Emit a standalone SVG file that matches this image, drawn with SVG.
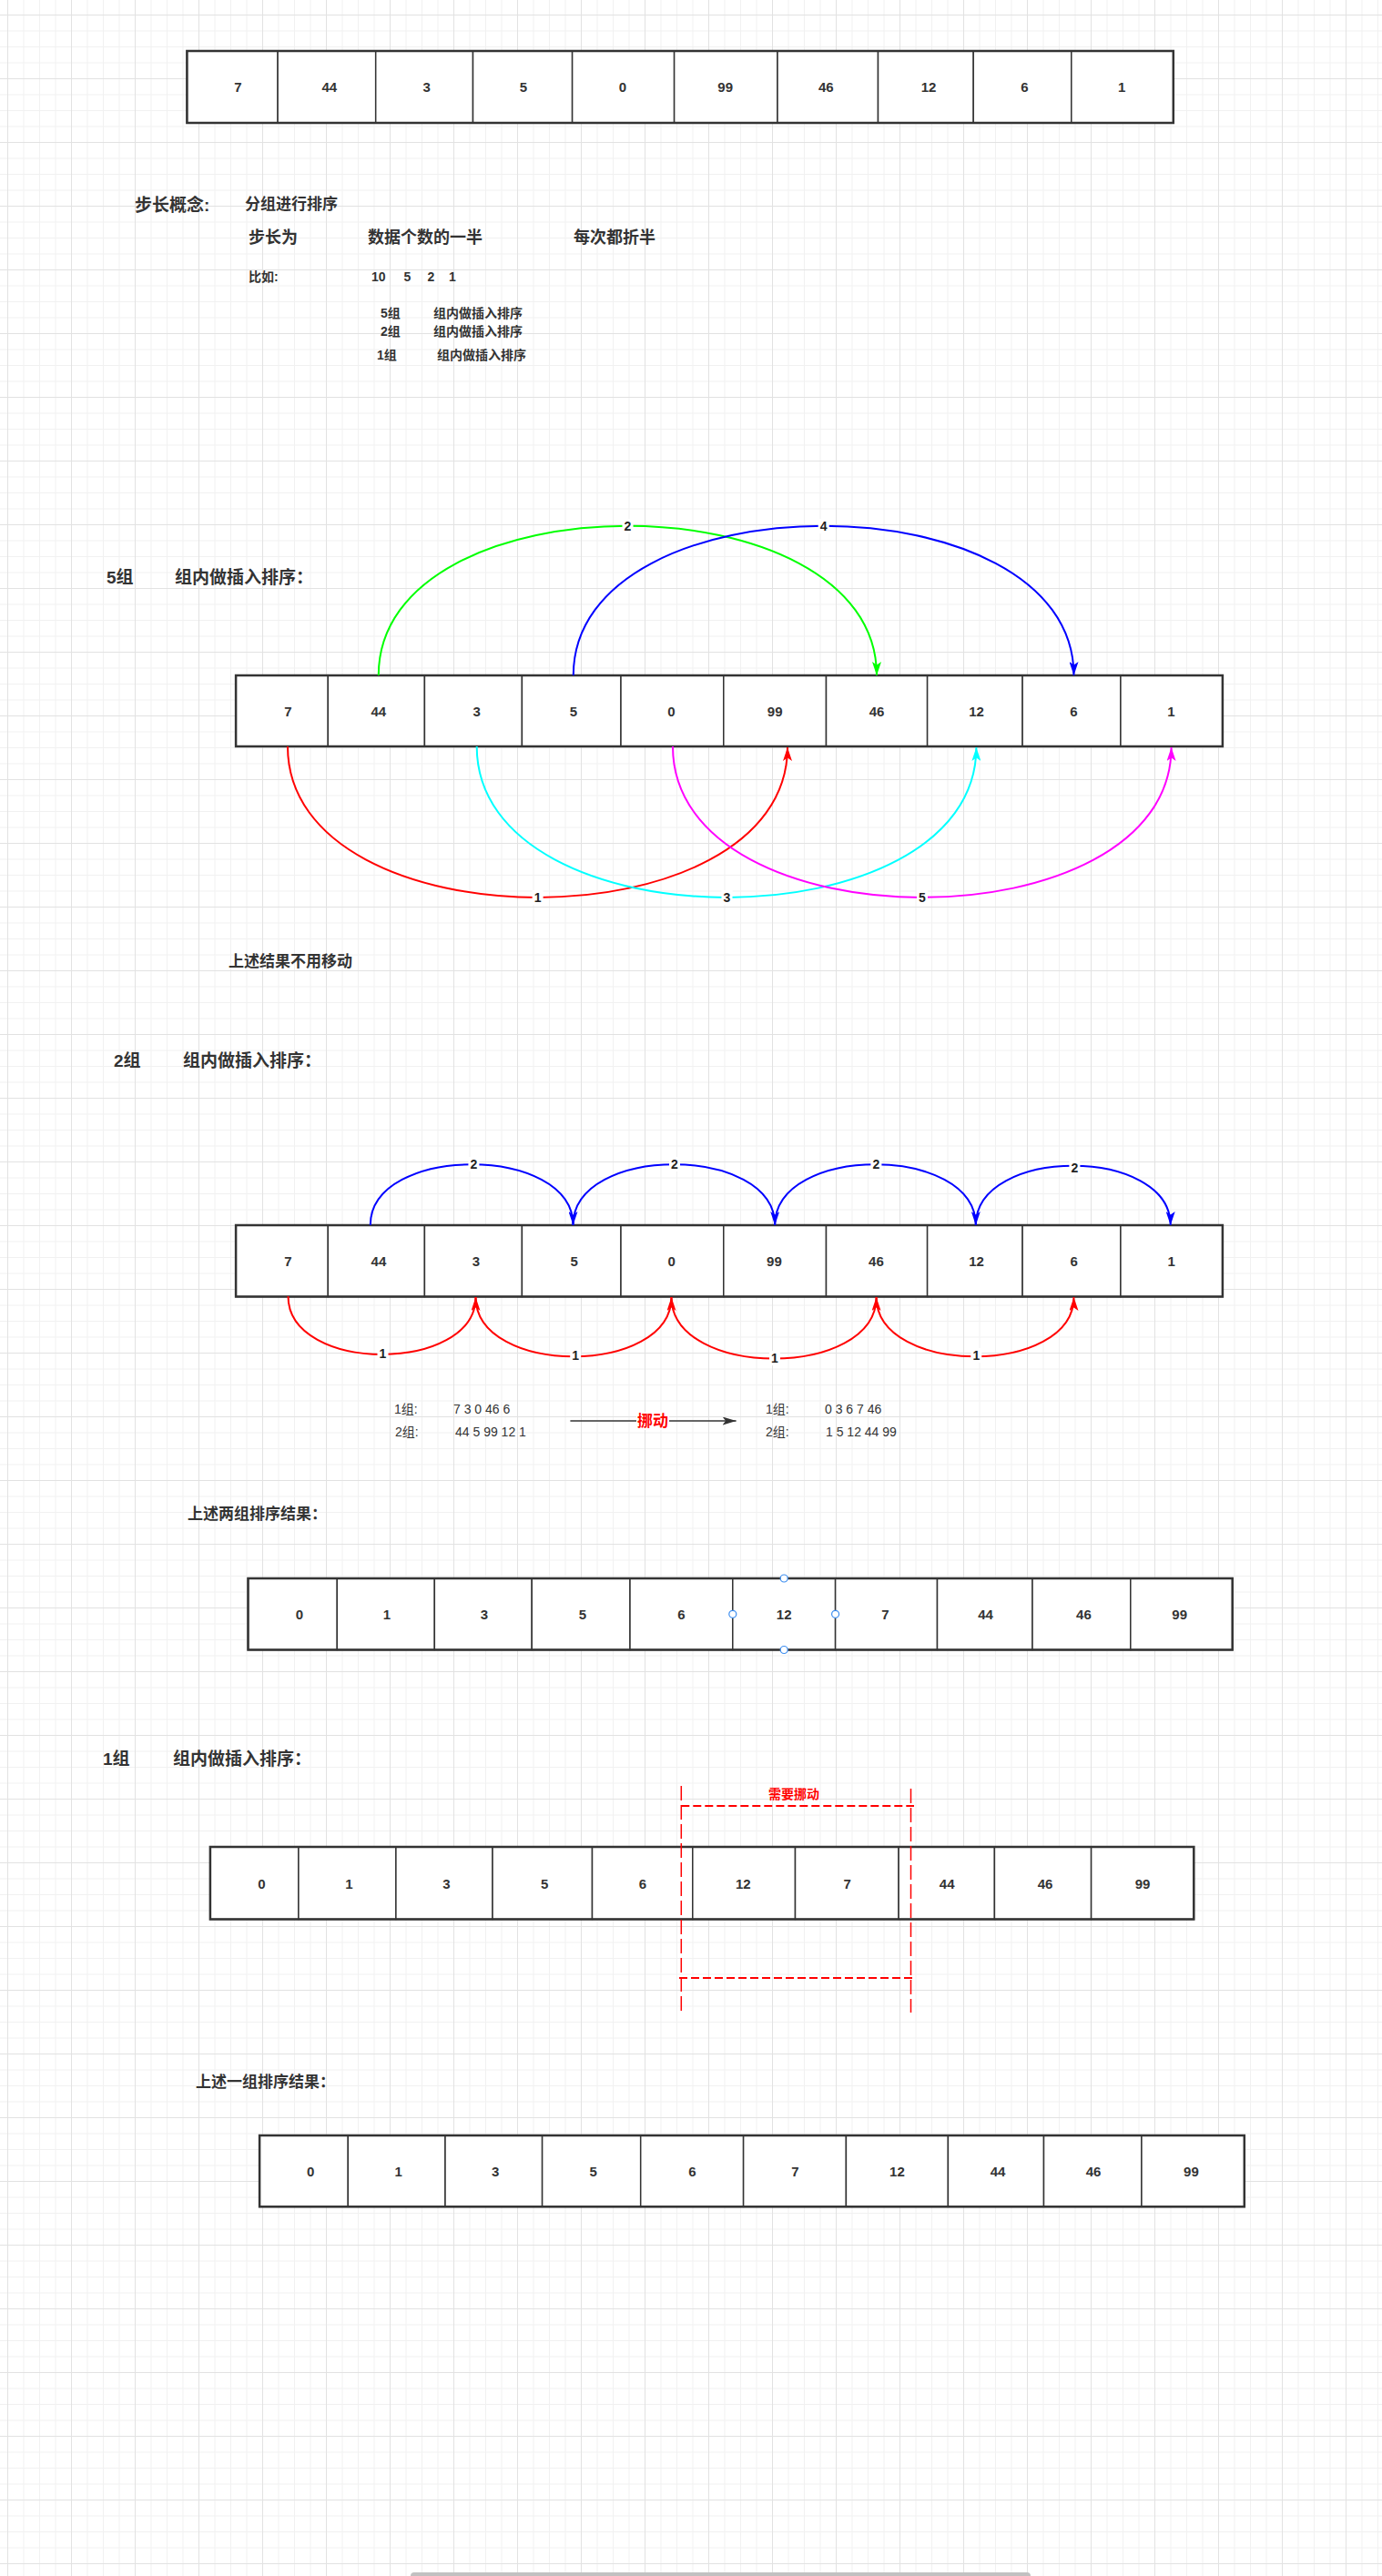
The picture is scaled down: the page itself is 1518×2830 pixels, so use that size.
<svg xmlns="http://www.w3.org/2000/svg" width="1518" height="2830" viewBox="0 0 1518 2830">
<defs>
<pattern id="grid" x="8" y="16" width="70" height="70" patternUnits="userSpaceOnUse">
<path d="M18 0V70M35.5 0V70M53 0V70M0 18H70M0 35.5H70M0 53H70" stroke="#f1f1f1" stroke-width="1" fill="none"/>
<path d="M0.5 0V70M0 0.5H70" stroke="#e2e2e2" stroke-width="1" fill="none"/>
</pattern>
<marker id="aG" viewBox="0 0 15 10" refX="15" refY="5" markerWidth="15" markerHeight="10" markerUnits="userSpaceOnUse" orient="auto"><path d="M0,0 L15,5 L0,10 L3.5,5 Z" fill="#00ff00"/></marker>
<marker id="aB" viewBox="0 0 15 10" refX="15" refY="5" markerWidth="15" markerHeight="10" markerUnits="userSpaceOnUse" orient="auto"><path d="M0,0 L15,5 L0,10 L3.5,5 Z" fill="#0000ff"/></marker>
<marker id="aR" viewBox="0 0 15 10" refX="15" refY="5" markerWidth="15" markerHeight="10" markerUnits="userSpaceOnUse" orient="auto"><path d="M0,0 L15,5 L0,10 L3.5,5 Z" fill="#ff0000"/></marker>
<marker id="aC" viewBox="0 0 15 10" refX="15" refY="5" markerWidth="15" markerHeight="10" markerUnits="userSpaceOnUse" orient="auto"><path d="M0,0 L15,5 L0,10 L3.5,5 Z" fill="#00ffff"/></marker>
<marker id="aM" viewBox="0 0 15 10" refX="15" refY="5" markerWidth="15" markerHeight="10" markerUnits="userSpaceOnUse" orient="auto"><path d="M0,0 L15,5 L0,10 L3.5,5 Z" fill="#ff00ff"/></marker>
<marker id="aD" viewBox="0 0 15 9" refX="15" refY="4.5" markerWidth="15" markerHeight="9" markerUnits="userSpaceOnUse" orient="auto"><path d="M0,0 L15,4.5 L0,9 L3.5,4.5 Z" fill="#333333"/></marker>
</defs>
<style>
.cell{fill:#ffffff;stroke:#333333;stroke-width:1.5}
.row{fill:none;stroke:#333333;stroke-width:2.5}
.num{font-family:"Liberation Sans","Noto Sans CJK SC",sans-serif;font-weight:bold;font-size:15px;fill:#333333;text-anchor:middle;dominant-baseline:central}
.t{font-family:"Liberation Sans","Noto Sans CJK SC",sans-serif;font-weight:bold;fill:#333333;dominant-baseline:central}
.t19{font-size:19px}
.t18{font-size:18px}
.t17{font-size:17px}
.t14{font-size:14px}
.n{font-family:"Liberation Sans","Noto Sans CJK SC",sans-serif;font-weight:normal;font-size:14px;fill:#333333;dominant-baseline:central}
.red{font-family:"Liberation Sans","Noto Sans CJK SC",sans-serif;font-weight:bold;fill:#ff0000;text-anchor:middle;dominant-baseline:central}
.e{fill:none;stroke-width:2}
.lb{font-family:"Liberation Sans",sans-serif;font-weight:bold;font-size:14px;fill:#222222;text-anchor:middle;dominant-baseline:central}
.bg{fill:#ffffff}
.dv{fill:none;stroke:#ff0000;stroke-width:1.5;stroke-dasharray:16 5}
.dh{fill:none;stroke:#ff0000;stroke-width:2;stroke-dasharray:9 4}
.hd{fill:#ffffff;stroke:#3d8ef0;stroke-width:1.2}
</style>
<rect x="0" y="0" width="1518" height="2830" fill="#ffffff"/>
<rect x="0" y="0" width="1518" height="2830" fill="url(#grid)"/>

<!-- Row 1 -->
<g id="row1">
<g id="r1c1"><rect class="cell" x="205.4" y="56" width="99.7" height="79"/><text class="num" x="261.5" y="95">7</text></g>
<g id="r1c2"><rect class="cell" x="305.1" y="56" width="107.6" height="79"/><text class="num" x="361.8" y="95">44</text></g>
<g id="r1c3"><rect class="cell" x="412.7" y="56" width="106.8" height="79"/><text class="num" x="468.7" y="95">3</text></g>
<g id="r1c4"><rect class="cell" x="519.5" y="56" width="109.1" height="79"/><text class="num" x="574.9" y="95">5</text></g>
<g id="r1c5"><rect class="cell" x="628.6" y="56" width="112" height="79"/><text class="num" x="684" y="95">0</text></g>
<g id="r1c6"><rect class="cell" x="740.6" y="56" width="113.4" height="79"/><text class="num" x="796.7" y="95">99</text></g>
<g id="r1c7"><rect class="cell" x="854" y="56" width="110.5" height="79"/><text class="num" x="907.3" y="95">46</text></g>
<g id="r1c8"><rect class="cell" x="964.5" y="56" width="104.7" height="79"/><text class="num" x="1020" y="95">12</text></g>
<g id="r1c9"><rect class="cell" x="1069.2" y="56" width="107.6" height="79"/><text class="num" x="1125.5" y="95">6</text></g>
<g id="r1c10"><rect class="cell" x="1176.8" y="56" width="112" height="79"/><text class="num" x="1232.1" y="95">1</text></g>
<rect class="row" x="205.4" y="56" width="1083.4" height="79"/>
</g>

<!-- Intro texts -->
<g id="intro">
<text class="t t19" x="148" y="225">步长概念:</text>
<text class="t t17" x="269" y="224">分组进行排序</text>
<text class="t t18" x="273" y="261">步长为</text>
<text class="t t18" x="404" y="261">数据个数的一半</text>
<text class="t t18" x="630" y="261">每次都折半</text>
<text class="t t14" x="273" y="304">比如:</text>
<text class="t t14" y="304"><tspan x="408">10</tspan><tspan x="443.5">5</tspan><tspan x="469.5">2</tspan><tspan x="493">1</tspan></text>
<text class="t t14" x="418" y="344">5组</text><text class="t t14" x="476" y="344">组内做插入排序</text>
<text class="t t14" x="418" y="364">2组</text><text class="t t14" x="476" y="364">组内做插入排序</text>
<text class="t t14" x="414" y="390">1组</text><text class="t t14" x="480" y="390">组内做插入排序</text>
</g>

<!-- Section 5组 -->
<g id="h5"><text class="t t19" x="117" y="634">5组</text><text class="t t19" x="192" y="634">组内做插入排序：</text></g>
<g id="row2">
<g id="r2c1"><rect class="cell" x="259.1" y="742" width="101.2" height="78"/><text class="num" x="316.3" y="781.5">7</text></g>
<g id="r2c2"><rect class="cell" x="360.3" y="742" width="106.1" height="78"/><text class="num" x="415.8" y="781.5">44</text></g>
<g id="r2c3"><rect class="cell" x="466.4" y="742" width="107" height="78"/><text class="num" x="523.6" y="781.5">3</text></g>
<g id="r2c4"><rect class="cell" x="573.4" y="742" width="108.6" height="78"/><text class="num" x="629.8" y="781.5">5</text></g>
<g id="r2c5"><rect class="cell" x="682" y="742" width="112.8" height="78"/><text class="num" x="737.5" y="781.5">0</text></g>
<g id="r2c6"><rect class="cell" x="794.8" y="742" width="112.7" height="78"/><text class="num" x="851.2" y="781.5">99</text></g>
<g id="r2c7"><rect class="cell" x="907.5" y="742" width="111.1" height="78"/><text class="num" x="963.1" y="781.5">46</text></g>
<g id="r2c8"><rect class="cell" x="1018.6" y="742" width="104.5" height="78"/><text class="num" x="1072.5" y="781.5">12</text></g>
<g id="r2c9"><rect class="cell" x="1123.1" y="742" width="107.8" height="78"/><text class="num" x="1179.5" y="781.5">6</text></g>
<g id="r2c10"><rect class="cell" x="1230.9" y="742" width="112" height="78"/><text class="num" x="1286.5" y="781.5">1</text></g>
<rect class="row" x="259.1" y="742" width="1083.8" height="78"/>
</g>
<g id="note1"><text class="t t17" x="251" y="1056">上述结果不用移动</text></g>

<!-- Section 2组 -->
<g id="h2"><text class="t t19" x="125" y="1165">2组</text><text class="t t19" x="201" y="1165">组内做插入排序：</text></g>
<g id="row3">
<g id="r3c1"><rect class="cell" x="259.1" y="1346" width="101.2" height="78.5"/><text class="num" x="316.4" y="1385">7</text></g>
<g id="r3c2"><rect class="cell" x="360.3" y="1346" width="106.1" height="78.5"/><text class="num" x="415.9" y="1385">44</text></g>
<g id="r3c3"><rect class="cell" x="466.4" y="1346" width="107" height="78.5"/><text class="num" x="522.9" y="1385">3</text></g>
<g id="r3c4"><rect class="cell" x="573.4" y="1346" width="108.6" height="78.5"/><text class="num" x="630.7" y="1385">5</text></g>
<g id="r3c5"><rect class="cell" x="682" y="1346" width="112.8" height="78.5"/><text class="num" x="737.6" y="1385">0</text></g>
<g id="r3c6"><rect class="cell" x="794.8" y="1346" width="112.7" height="78.5"/><text class="num" x="850.4" y="1385">99</text></g>
<g id="r3c7"><rect class="cell" x="907.5" y="1346" width="111.1" height="78.5"/><text class="num" x="962.4" y="1385">46</text></g>
<g id="r3c8"><rect class="cell" x="1018.6" y="1346" width="104.5" height="78.5"/><text class="num" x="1072.6" y="1385">12</text></g>
<g id="r3c9"><rect class="cell" x="1123.1" y="1346" width="107.8" height="78.5"/><text class="num" x="1179.6" y="1385">6</text></g>
<g id="r3c10"><rect class="cell" x="1230.9" y="1346" width="112" height="78.5"/><text class="num" x="1286.6" y="1385">1</text></g>
<rect class="row" x="259.1" y="1346" width="1083.8" height="78.5"/>
</g>
<g id="groups">
<text class="n" x="433" y="1548">1组:</text><text class="n" x="498" y="1548">7 3 0 46 6</text>
<text class="n" x="434" y="1573">2组:</text><text class="n" x="500" y="1573">44 5 99 12 1</text>
<text class="n" x="841" y="1548">1组:</text><text class="n" x="906" y="1548">0 3 6 7 46</text>
<text class="n" x="841" y="1573">2组:</text><text class="n" x="907" y="1573">1 5 12 44 99</text>
</g>
<g id="note2"><text class="t t17" x="206" y="1663">上述两组排序结果：</text></g>
<g id="row4">
<g id="r4c1"><rect class="cell" x="272.5" y="1734" width="97.8" height="78.5"/><text class="num" x="328.9" y="1773.3">0</text></g>
<g id="r4c2"><rect class="cell" x="370.3" y="1734" width="107" height="78.5"/><text class="num" x="425" y="1773.3">1</text></g>
<g id="r4c3"><rect class="cell" x="477.3" y="1734" width="106.9" height="78.5"/><text class="num" x="532" y="1773.3">3</text></g>
<g id="r4c4"><rect class="cell" x="584.2" y="1734" width="107.8" height="78.5"/><text class="num" x="639.8" y="1773.3">5</text></g>
<g id="r4c5"><rect class="cell" x="692" y="1734" width="112.8" height="78.5"/><text class="num" x="748.4" y="1773.3">6</text></g>
<g id="r4c6"><rect class="cell" x="804.8" y="1734" width="112.8" height="78.5"/><text class="num" x="861.2" y="1773.3">12</text></g>
<g id="r4c7"><rect class="cell" x="917.6" y="1734" width="111.9" height="78.5"/><text class="num" x="972.3" y="1773.3">7</text></g>
<g id="r4c8"><rect class="cell" x="1029.5" y="1734" width="104.5" height="78.5"/><text class="num" x="1082.6" y="1773.3">44</text></g>
<g id="r4c9"><rect class="cell" x="1134" y="1734" width="107.8" height="78.5"/><text class="num" x="1190.4" y="1773.3">46</text></g>
<g id="r4c10"><rect class="cell" x="1241.8" y="1734" width="111.9" height="78.5"/><text class="num" x="1295.7" y="1773.3">99</text></g>
<rect class="row" x="272.5" y="1734" width="1081.2" height="78.5"/>
</g>
<g id="handles">
<circle class="hd" cx="861.2" cy="1734" r="4"/>
<circle class="hd" cx="861.2" cy="1812.5" r="4"/>
<circle class="hd" cx="804.8" cy="1773.3" r="4"/>
<circle class="hd" cx="917.6" cy="1773.3" r="4"/>
</g>

<!-- Section 1组 -->
<g id="h1"><text class="t t19" x="113" y="1932">1组</text><text class="t t19" x="190" y="1932">组内做插入排序：</text></g>
<g id="row5">
<g id="r5c1"><rect class="cell" x="230.9" y="2029" width="97" height="79.5"/><text class="num" x="287.3" y="2069">0</text></g>
<g id="r5c2"><rect class="cell" x="327.9" y="2029" width="107" height="79.5"/><text class="num" x="383.5" y="2069">1</text></g>
<g id="r5c3"><rect class="cell" x="434.9" y="2029" width="106.1" height="79.5"/><text class="num" x="490.4" y="2069">3</text></g>
<g id="r5c4"><rect class="cell" x="541" y="2029" width="109.5" height="79.5"/><text class="num" x="598.2" y="2069">5</text></g>
<g id="r5c5"><rect class="cell" x="650.5" y="2029" width="110.3" height="79.5"/><text class="num" x="706" y="2069">6</text></g>
<g id="r5c6"><rect class="cell" x="760.8" y="2029" width="112.7" height="79.5"/><text class="num" x="816.3" y="2069">12</text></g>
<g id="r5c7"><rect class="cell" x="873.5" y="2029" width="113.6" height="79.5"/><text class="num" x="930.7" y="2069">7</text></g>
<g id="r5c8"><rect class="cell" x="987.1" y="2029" width="105.3" height="79.5"/><text class="num" x="1040.2" y="2069">44</text></g>
<g id="r5c9"><rect class="cell" x="1092.4" y="2029" width="106.2" height="79.5"/><text class="num" x="1148" y="2069">46</text></g>
<g id="r5c10"><rect class="cell" x="1198.6" y="2029" width="112.7" height="79.5"/><text class="num" x="1255" y="2069">99</text></g>
<rect class="row" x="230.9" y="2029" width="1080.4" height="79.5"/>
</g>
<g id="move-box">
<path class="dv" d="M748.3 1962V2211"/>
<path class="dv" d="M1000.5 1965V2211"/>
<path class="dh" d="M748.3 1984H1004"/>
<path class="dh" d="M746 2173H1002"/>
<text class="red" x="872" y="1971" font-size="14">需要挪动</text>
</g>
<g id="note3"><text class="t t17" x="215" y="2287">上述一组排序结果：</text></g>
<g id="row6">
<g id="r6c1"><rect class="cell" x="285.1" y="2346" width="97.2" height="78.3"/><text class="num" x="341.1" y="2385">0</text></g>
<g id="r6c2"><rect class="cell" x="382.3" y="2346" width="106.7" height="78.3"/><text class="num" x="437.6" y="2385">1</text></g>
<g id="r6c3"><rect class="cell" x="489" y="2346" width="106.6" height="78.3"/><text class="num" x="544.2" y="2385">3</text></g>
<g id="r6c4"><rect class="cell" x="595.6" y="2346" width="108.1" height="78.3"/><text class="num" x="651.6" y="2385">5</text></g>
<g id="r6c5"><rect class="cell" x="703.7" y="2346" width="112.9" height="78.3"/><text class="num" x="760.5" y="2385">6</text></g>
<g id="r6c6"><rect class="cell" x="816.6" y="2346" width="112.8" height="78.3"/><text class="num" x="873.4" y="2385">7</text></g>
<g id="r6c7"><rect class="cell" x="929.4" y="2346" width="112" height="78.3"/><text class="num" x="985.4" y="2385">12</text></g>
<g id="r6c8"><rect class="cell" x="1041.4" y="2346" width="105.1" height="78.3"/><text class="num" x="1096" y="2385">44</text></g>
<g id="r6c9"><rect class="cell" x="1146.5" y="2346" width="107.4" height="78.3"/><text class="num" x="1201" y="2385">46</text></g>
<g id="r6c10"><rect class="cell" x="1253.9" y="2346" width="112.9" height="78.3"/><text class="num" x="1308.4" y="2385">99</text></g>
<rect class="row" x="285.1" y="2346" width="1081.7" height="78.3"/>
</g>

<!-- Connectors -->
<g id="connectors">
<path class="e" stroke="#00ff00" marker-end="url(#aG)" d="M415.8 742C415.8 523 963 523 963 742"/>
<path class="e" stroke="#0000ff" marker-end="url(#aB)" d="M629.8 742C629.8 523 1179.5 523 1179.5 742"/>
<path class="e" stroke="#ff0000" marker-end="url(#aR)" d="M316 820C316 1041 865 1041 865 821"/>
<path class="e" stroke="#00ffff" marker-end="url(#aC)" d="M523.7 820C523.7 1041 1072.4 1041 1072.4 821"/>
<path class="e" stroke="#ff00ff" marker-end="url(#aM)" d="M739 820C739 1041 1286.6 1041 1286.6 821"/>
<path class="e" stroke="#0000ff" marker-end="url(#aB)" d="M406.8 1346C406.8 1257 629.5 1257 629.5 1346"/>
<path class="e" stroke="#0000ff" marker-end="url(#aB)" d="M629.5 1346C629.5 1257 851.2 1257 851.2 1346"/>
<path class="e" stroke="#0000ff" marker-end="url(#aB)" d="M851.2 1346C851.2 1257 1071.8 1257 1071.8 1346"/>
<path class="e" stroke="#0000ff" marker-end="url(#aB)" d="M1071.8 1346C1071.8 1259 1285.7 1259 1285.7 1346"/>
<path class="e" stroke="#ff0000" marker-end="url(#aR)" d="M316.5 1424C316.5 1509 522.5 1509 522.5 1425"/>
<path class="e" stroke="#ff0000" marker-end="url(#aR)" d="M522.5 1425C522.5 1512 737.5 1512 737.5 1425"/>
<path class="e" stroke="#ff0000" marker-end="url(#aR)" d="M737.5 1425C737.5 1515 962.6 1515 962.6 1425"/>
<path class="e" stroke="#ff0000" marker-end="url(#aR)" d="M962.6 1425C962.6 1512 1179.5 1512 1179.5 1425"/>
<path fill="none" stroke="#333333" stroke-width="1.5" marker-end="url(#aD)" d="M626.4 1561H808.6"/>
<rect class="bg" x="683.5" y="570" width="12" height="16"/>
<rect class="bg" x="898.7" y="570" width="12" height="16"/>
<rect class="bg" x="584.6" y="978" width="12" height="16"/>
<rect class="bg" x="792.5" y="978" width="12" height="16"/>
<rect class="bg" x="1007" y="978" width="12" height="16"/>
<rect class="bg" x="514.4" y="1271" width="12" height="16"/>
<rect class="bg" x="735" y="1271" width="12" height="16"/>
<rect class="bg" x="956.4" y="1271" width="12" height="16"/>
<rect class="bg" x="1174.4" y="1275" width="12" height="16"/>
<rect class="bg" x="414.5" y="1479" width="12" height="16"/>
<rect class="bg" x="626.2" y="1481" width="12" height="16"/>
<rect class="bg" x="845" y="1484" width="12" height="16"/>
<rect class="bg" x="1066.3" y="1481" width="12" height="16"/>
<rect class="bg" x="699" y="1551" width="36" height="20"/>
<text class="lb" x="689.5" y="578">2</text>
<text class="lb" x="904.7" y="578">4</text>
<text class="lb" x="590.6" y="986">1</text>
<text class="lb" x="798.5" y="986">3</text>
<text class="lb" x="1013" y="986">5</text>
<text class="lb" x="520.4" y="1279">2</text>
<text class="lb" x="741" y="1279">2</text>
<text class="lb" x="962.4" y="1279">2</text>
<text class="lb" x="1180.4" y="1283">2</text>
<text class="lb" x="420.5" y="1487">1</text>
<text class="lb" x="632.2" y="1489">1</text>
<text class="lb" x="851" y="1492">1</text>
<text class="lb" x="1072.3" y="1489">1</text>
<text class="red" x="717" y="1561" font-size="17">挪动</text>
</g>
<rect x="451" y="2826" width="681" height="8" rx="4" fill="#c1c1c1"/>
</svg>
